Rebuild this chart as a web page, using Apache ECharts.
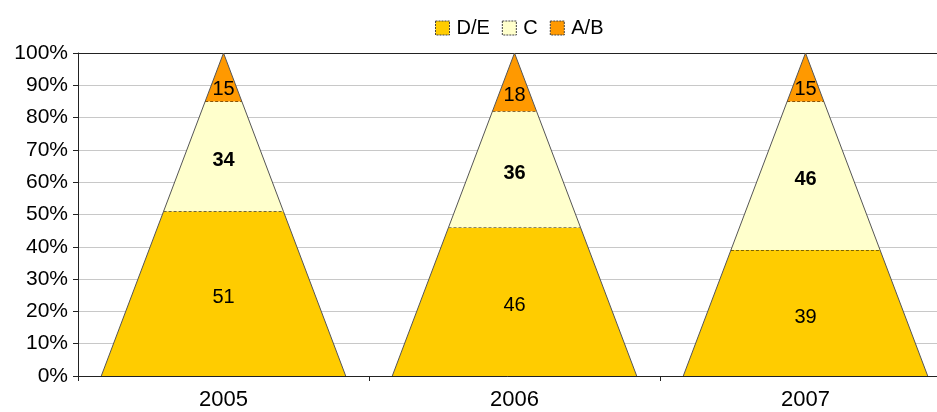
<!DOCTYPE html>
<html>
<head>
<meta charset="utf-8">
<script src="https://cdn.jsdelivr.net/npm/echarts@6/dist/echarts.min.js"></script>
<style>html,body{margin:0;padding:0;background:#fff;overflow:hidden;}#c{width:937px;height:412px;}</style>
</head>
<body>
<div id="c"></div>
<script>
var categories = ['2005', '2006', '2007'];
var seriesNames = ['D/E', 'C', 'A/B'];
var valuesDE = [51, 46, 39];
var valuesC = [34, 36, 46];
var valuesAB = [15, 18, 15];
var yTicks = [0, 10, 20, 30, 40, 50, 60, 70, 80, 90, 100];

var colors = ['#FFCC00', '#FFFFCC', '#FF9900'];
var allValues = [valuesDE, valuesC, valuesAB];
var FONT = '"Liberation Sans", Arial, sans-serif';

function buildData(level) {
  var out = [];
  for (var i = 0; i < categories.length; i++) {
    var start = 0;
    for (var k = 0; k < level; k++) start += allValues[k][i];
    out.push([i, start, start + allValues[level][i], allValues[level][i]]);
  }
  return out;
}

function makeRender(level) {
  return function (params, api) {
    var ci = api.value(0), s = api.value(1), e = api.value(2), v = api.value(3);
    var band = api.size([1, 0])[0];
    var cx = api.coord([ci, 0])[0];
    var y0 = api.coord([ci, 0])[1];
    var y100 = api.coord([ci, 100])[1];
    var hw = band * 0.42;
    function yAt(p) { return y0 + (y100 - y0) * p / 100; }
    function wAt(p) { return hw * (1 - p / 100); }
    var ys = yAt(s), ye = yAt(e), ws = wAt(s), we = wAt(e);
    var children = [
      { type: 'polygon', shape: { points: [[cx - ws, ys], [cx + ws, ys], [cx + we, ye], [cx - we, ye]] },
        style: { fill: colors[level], stroke: null } },
      { type: 'line', shape: { x1: cx - ws, y1: ys, x2: cx - we, y2: ye }, style: { stroke: '#555', lineWidth: 1 } },
      { type: 'line', shape: { x1: cx + ws, y1: ys, x2: cx + we, y2: ye }, style: { stroke: '#555', lineWidth: 1 } }
    ];
    if (e < 100) {
      children.push({ type: 'line', shape: { x1: cx - we, y1: ye, x2: cx + we, y2: ye },
        style: { stroke: '#000', lineWidth: 1, lineDash: [3, 2] } });
    }
    var labelP = (e >= 100) ? s + (e - s) / 3 : (s + e) / 2;
    children.push({ type: 'text', x: cx, y: yAt(labelP) + 4,
      style: { text: String(v), fill: '#000', font: (level === 1 ? 'bold ' : '') + '20px ' + FONT,
        textAlign: 'center', textVerticalAlign: 'middle' } });
    return { type: 'group', children: children };
  };
}

var splitColors = yTicks.map(function (t) { return t === 100 ? '#222' : '#c8c8c8'; });

var chart = echarts.init(document.getElementById('c'), null, { renderer: 'canvas' });
var series = seriesNames.map(function (name, level) {
  return {
    name: name, type: 'custom', renderItem: makeRender(level), data: buildData(level),
    itemStyle: { color: colors[level] }, encode: { x: 0, y: [1, 2] }, z: 2
  };
});

chart.setOption({
  animation: false,
  textStyle: { fontFamily: FONT },
  color: colors,
  legend: {
    data: seriesNames.map(function (n, i) {
      return { name: n, icon: 'rect', itemStyle: { color: colors[i], borderColor: '#444', borderWidth: 1, borderType: [2, 1] } };
    }),
    left: 430, top: 13, itemWidth: 14, itemHeight: 14, itemGap: 12,
    textStyle: { fontSize: 20, color: '#000', fontFamily: FONT, padding: [0, 0, 0, 2] }
  },
  grid: { left: 78, width: 873, top: 53, height: 323, containLabel: false, outerBoundsMode: 'none' },
  xAxis: {
    type: 'category', data: categories, boundaryGap: true,
    axisLine: { lineStyle: { color: '#222', width: 1 } },
    axisTick: { show: true, length: 5, lineStyle: { color: '#222' }, alignWithLabel: false },
    axisLabel: { fontSize: 22, color: '#000', margin: 13, fontFamily: FONT },
    splitLine: { show: false }
  },
  yAxis: {
    type: 'value', min: 0, max: 100, interval: 10,
    axisLine: { show: true, lineStyle: { color: '#222', width: 1 } },
    axisTick: { show: true, length: 5, lineStyle: { color: '#222' } },
    axisLabel: { formatter: '{value}%', fontSize: 21, color: '#000', margin: 10, fontFamily: FONT },
    splitLine: { show: true, lineStyle: { color: splitColors, width: 1 } }
  },
  series: series
});
</script>
</body>
</html>
